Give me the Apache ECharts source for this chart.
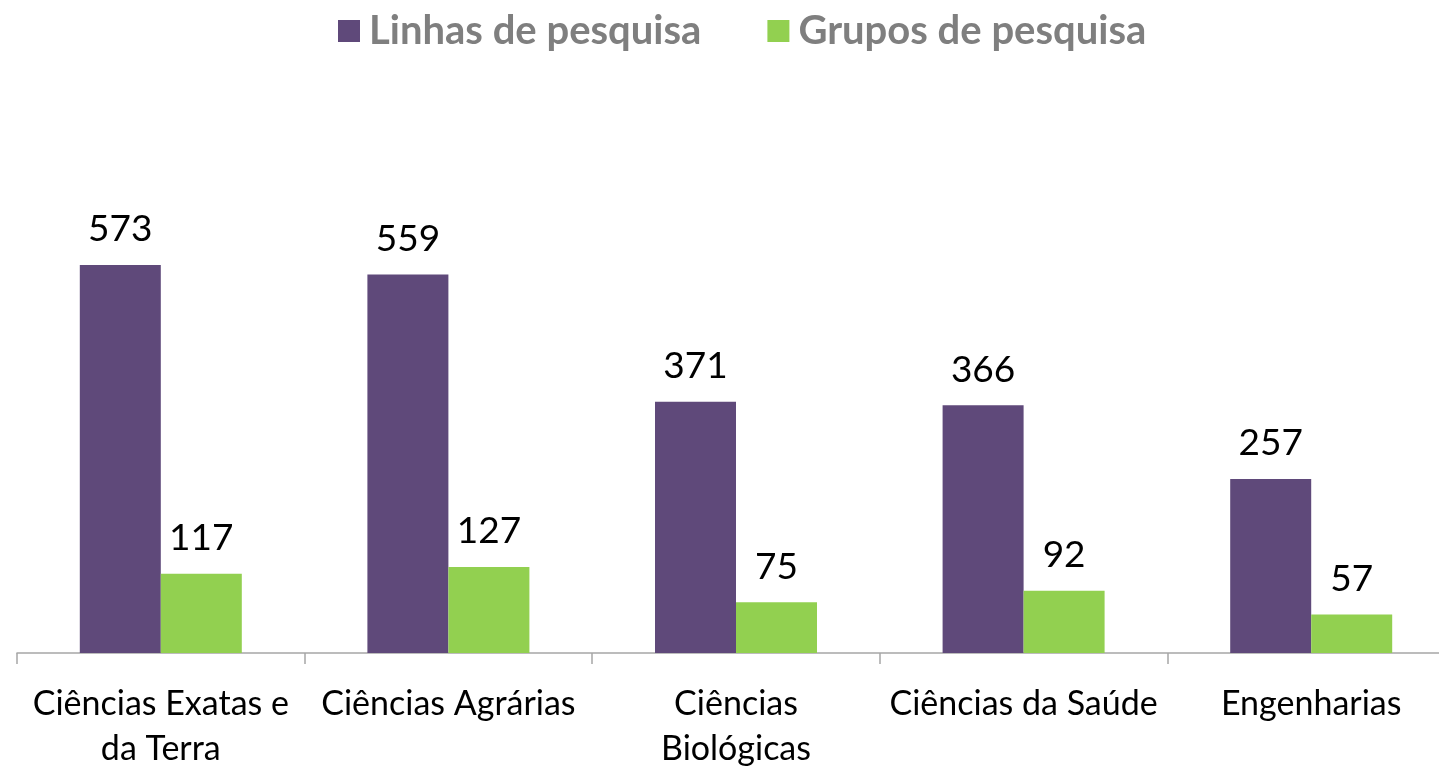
<!DOCTYPE html>
<html>
<head>
<meta charset="utf-8">
<script src="https://cdn.jsdelivr.net/npm/echarts@6/dist/echarts.min.js"></script>
<style>
  html, body { margin: 0; padding: 0; background: #fff; }
  #chart { width: 1439px; height: 767px; }
</style>
</head>
<body>
<div id="chart"></div>
<script>
// dados
const categorias = ['Ciências Exatas e\nda Terra', 'Ciências Agrárias', 'Ciências\nBiológicas', 'Ciências da Saúde', 'Engenharias']
const linhas = [573, 559, 371, 366, 257]
const grupos = [117, 127, 75, 92, 57]

const chart = echarts.init(document.getElementById('chart'))

const rotulo = {
    show: true,
    position: 'top',
    distance: 17,
    color: '#000',
    fontFamily: 'Lato',
    fontSize: 37
}

const option = {
    animation: false,
    textStyle: { fontFamily: 'Lato' },
    legend: {
        top: 6,
        left: 333,
        itemWidth: 22,
        itemHeight: 22,
        itemGap: 66,
        icon: 'rect',
        textStyle: {
            color: '#7f7f7f',
            fontWeight: 'bold',
            fontSize: 40,
            fontFamily: 'Lato',
            padding: [0, 0, 0, 4]
        },
        data: ['Linhas de pesquisa', 'Grupos de pesquisa']
    },
    grid: {
        left: 17,
        width: 1438,
        top: 179,
        bottom: 114,
        outerBoundsMode: 'none'
    },
    xAxis: {
        type: 'category',
        data: categorias,
        axisLine: { lineStyle: { color: '#a6a6a6', width: 1.5 } },
        axisTick: { show: true, interval: 0, length: 11, lineStyle: { color: '#a6a6a6', width: 1.5 } },
        axisLabel: {
            interval: 0,
            color: '#000',
            fontSize: 34,
            fontFamily: 'Lato',
            lineHeight: 45,
            margin: 29
        }
    },
    yAxis: {
        type: 'value',
        min: 0,
        max: 700,
        show: false,
        splitLine: { show: false }
    },
    series: [
        {
            name: 'Linhas de pesquisa',
            type: 'bar',
            barWidth: 81,
            barGap: '0%',
            itemStyle: { color: '#5f497a' },
            label: rotulo,
            data: linhas
        },
        {
            name: 'Grupos de pesquisa',
            type: 'bar',
            barWidth: 81,
            barGap: '0%',
            itemStyle: { color: '#92d050' },
            label: rotulo,
            data: grupos
        }
    ]
}

chart.setOption(option)
</script>
</body>
</html>
